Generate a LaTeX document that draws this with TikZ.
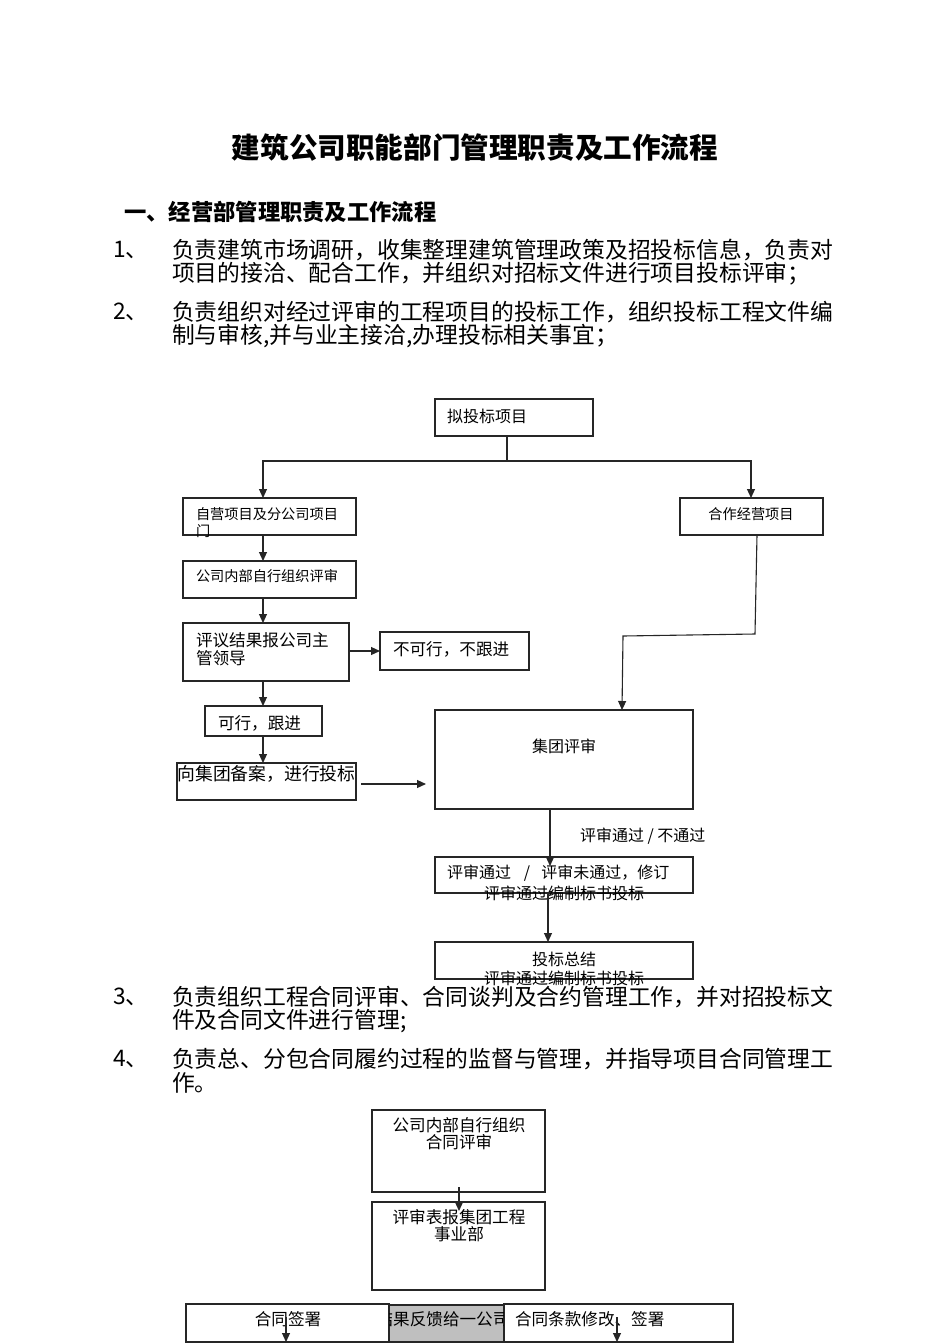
\documentclass[tikz,border=0pt]{standalone}
\usepackage{fontspec}
\setmainfont{Noto Sans CJK SC}
\usetikzlibrary{arrows.meta,calc}
\begin{document}
\begin{tikzpicture}[x=1pt,y=-1pt,
  box/.style={draw=black!85,line width=1.1pt,inner sep=0pt,outer sep=0pt,fill=white},
  gbox/.style={draw=black!85,line width=1.1pt,inner sep=0pt,outer sep=0pt,fill=black!25},
  conn/.style={draw=black!85,line width=1.1pt},
  arr/.style={draw=black!85,line width=1.1pt,-{Triangle[length=9pt,width=8pt]}},
  tx/.style={inner sep=0pt,outer sep=0pt,font=\fontsize{16}{18}\selectfont},
  txs/.style={inner sep=0pt,outer sep=0pt,font=\fontsize{14.2}{16}\selectfont},
  body/.style={inner sep=0pt,outer sep=0pt,anchor=west,font=\fontsize{22.8}{26}\selectfont},
]
\useasboundingbox[fill=white] (0,0) rectangle (950,1344);

% ---- headings and text ----
\node[inner sep=0pt,font=\fontsize{28.6}{32}\selectfont\bfseries] (title) at (475,148) {建筑公司职能部门管理职责及工作流程};
\node[inner sep=0pt,anchor=west,font=\fontsize{22.3}{26}\selectfont\bfseries] (head1) at (124,212) {一、经营部管理职责及工作流程};

\node[body] (n1) at (113,250) {1、};
\node[body] (p1a) at (172,250) {负责建筑市场调研，收集整理建筑管理政策及招投标信息，负责对};
\node[body] (p1b) at (172,274) {项目的接洽、配合工作，并组织对招标文件进行项目投标评审；};
\node[body] (n2) at (113,312) {2、};
\node[body] (p2a) at (172,312) {负责组织对经过评审的工程项目的投标工作，组织投标工程文件编};
\node[body] (p2b) at (172,336) {制与审核,并与业主接洽,办理投标相关事宜；};

\node[body] (n3) at (113,997) {3、};
\node[body] (p3a) at (172,997) {负责组织工程合同评审、合同谈判及合约管理工作，并对招投标文};
\node[body] (p3b) at (172,1021) {件及合同文件进行管理;};
\node[body] (n4) at (113,1059) {4、};
\node[body] (p4a) at (172,1059) {负责总、分包合同履约过程的监督与管理，并指导项目合同管理工};
\node[body] (p4b) at (172,1083) {作。};

% ---- flowchart 1 boxes ----
\node[box,minimum width=158pt,minimum height=37pt] (A) at (514,417.5) {};
\node[box,minimum width=173pt,minimum height=37pt] (B) at (269.5,516.5) {};
\node[box,minimum width=143pt,minimum height=37pt] (C) at (751.5,516.5) {};
\node[box,minimum width=173pt,minimum height=37pt] (D) at (269.5,579.5) {};
\node[box,minimum width=166pt,minimum height=58pt] (E) at (266,652) {};
\node[box,minimum width=149pt,minimum height=38pt] (F) at (454.5,651) {};
\node[box,minimum width=117pt,minimum height=30pt] (G) at (263.5,721) {};
\node[box,minimum width=179pt,minimum height=37pt] (H) at (266.5,781.5) {};
\node[box,minimum width=258pt,minimum height=99pt] (I) at (564,759.5) {};
\node[box,minimum width=258pt,minimum height=36pt] (J) at (564,875) {};
\node[box,minimum width=258pt,minimum height=37pt] (K) at (564,960.5) {};

% texts
\node[tx,anchor=west] (At) at (447,416) {拟投标项目};
\node[txs,anchor=west] (Bt1) at (196,514) {自营项目及分公司项目};
\node[txs,anchor=west] (Bt2) at (196,531) {门};
\node[txs] (Ct) at (751,514) {合作经营项目};
\node[txs,anchor=west] (Dt) at (196,576) {公司内部自行组织评审};
\node[tx,anchor=west,font=\fontsize{16.6}{18}\selectfont] (Et1) at (196,640) {评议结果报公司主};
\node[tx,anchor=west,font=\fontsize{16.6}{18}\selectfont] (Et2) at (196,658) {管领导};
\node[tx,anchor=west,font=\fontsize{16.6}{18}\selectfont] (Ft) at (393,649) {不可行，不跟进};
\node[tx,anchor=west,font=\fontsize{16.6}{18}\selectfont] (Gt) at (218,723) {可行，跟进};
\node[tx,anchor=west,font=\fontsize{17.8}{20}\selectfont] (Ht) at (177.5,774) {向集团备案，进行投标};
\node[tx] (It) at (564,746) {集团评审};
\node[tx,anchor=west] (Jt1) at (447,873) {评审通过\hspace{13pt}/\hspace{11pt}评审未通过，修订};
\node[tx] (Jt2) at (564,893) {评审通过编制标书投标};
\node[tx] (Kt1) at (564,959) {投标总结};
\node[tx] (Kt2) at (564,978) {评审通过编制标书投标};
\node[tx,anchor=west] (lab1) at (580,836) {评审通过 / 不通过};

% connectors
\coordinate (cj) at (507,461);
\coordinate (cl) at (263,0);
\coordinate (cr) at (751,0);
\draw[conn] (A.south -| cj) -- (cj);
\draw[arr] (cj) -| (B.north -| cl);
\draw[arr] (cj) -| (C.north -| cr);
\draw[arr] (B.south -| cl) -- (D.north -| cl);
\draw[arr] (D.south -| cl) -- (E.north -| cl);
\draw[arr] (E.east |- F.west) -- (F.west);
\draw[arr] (E.south -| cl) -- (G.north -| cl);
\draw[arr] (G.south -| cl) -- (H.north -| cl);
\coordinate (h1) at (361,784);
\coordinate (h2) at (426,784);
\draw[arr] (h1) -- (h2);
\coordinate (c1) at (757,535);
\coordinate (c2) at (755,634);
\coordinate (c3) at (623,636);
\coordinate (c4) at (622,0);
\draw[arr] (c1) -- (c2) -- (c3) -- (I.north -| c4);
\coordinate (cm) at (550,0);
\coordinate (j1) at (550,866);
\draw[arr] (I.south -| cm) -- (j1);
\coordinate (cm2) at (548,0);
\draw[arr] (J.south -| cm2) -- (K.north -| cm2);

% ---- flowchart 2 ----
\node[box,minimum width=173pt,minimum height=82pt] (L) at (458.5,1151) {};
\node[box,minimum width=173pt,minimum height=88pt] (M) at (458.5,1246) {};
\node[tx,font=\fontsize{16.6}{18}\selectfont] (Lt1) at (459,1125) {公司内部自行组织};
\node[tx,font=\fontsize{16.6}{18}\selectfont] (Lt2) at (459,1142) {合同评审};
\node[tx,font=\fontsize{16.6}{18}\selectfont] (Mt1) at (459,1217) {评审表报集团工程};
\node[tx,font=\fontsize{16.6}{18}\selectfont] (Mt2) at (459,1234) {事业部};
\coordinate (l1) at (459,1187);
\coordinate (l2) at (459,1211);
\draw[arr] (l1) -- (l2);

\node[box,minimum width=203pt,minimum height=38pt] (N1) at (287.5,1323) {};
\node[gbox,minimum width=115pt,minimum height=37pt] (N2) at (446.5,1323.5) {};
\node[box,minimum width=229pt,minimum height=38pt] (N3) at (618.5,1323) {};
\node[tx,font=\fontsize{16.6}{18}\selectfont] (N1t) at (288,1319) {合同签署};
\begin{scope}
\clip (389.6,1305) rectangle (503.4,1341);
\node[tx,font=\fontsize{16.6}{18}\selectfont] (N2t) at (443,1319) {结果反馈给一公司};
\end{scope}
\node[tx,anchor=west,font=\fontsize{16.6}{18}\selectfont] (N3t) at (515,1319) {合同条款修改、签署};
\coordinate (b1) at (286,1317);
\coordinate (b2) at (286,1342);
\coordinate (b3) at (617,1317);
\coordinate (b4) at (617,1342);
\draw[arr] (b1) -- (b2);
\draw[arr] (b3) -- (b4);
\end{tikzpicture}
\end{document}
